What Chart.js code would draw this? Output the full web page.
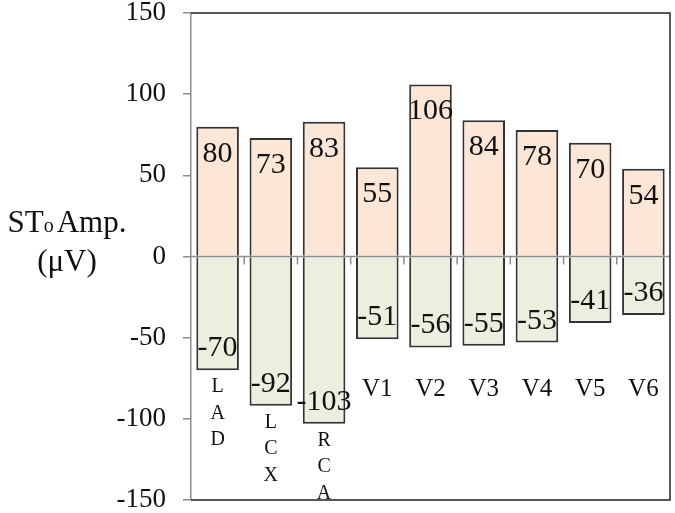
<!DOCTYPE html>
<html>
<head>
<meta charset="utf-8">
<script src="https://cdn.jsdelivr.net/npm/chart.js@4/dist/chart.umd.min.js"></script>
<style>
  html, body { margin: 0; padding: 0; background: #fff; }
  #wrap { width: 675px; height: 513px; }
</style>
</head>
<body>
<div id="wrap"><canvas id="stChart" width="675" height="513"></canvas></div>
<script>
// ST amplitude per lead
const categories = ['LAD', 'LCX', 'RCA', 'V1', 'V2', 'V3', 'V4', 'V5', 'V6'];
const positiveValues = [80, 73, 83, 55, 106, 84, 78, 70, 54];
const negativeValues = [-70, -92, -103, -51, -56, -55, -53, -41, -36];
const yTickValues = [-150, -100, -50, 0, 50, 100, 150];

const SERIF = '"Liberation Serif", "Times New Roman", serif';
const GRAY = '#8c8c8c';
const INK = '#111';

// labels, frame, zero line and axis title
const overlayPlugin = {
    id: 'overlay',
    afterDatasetsDraw(chart) {
        const ctx = chart.ctx;
        const a = chart.chartArea;
        const x = chart.scales.x;
        const y = chart.scales.y;
        ctx.save();

        // zero line + small ticks between categories
        const y0 = y.getPixelForValue(0);
        ctx.strokeStyle = GRAY;
        ctx.lineWidth = 1.5;
        ctx.beginPath();
        ctx.moveTo(a.left, y0);
        ctx.lineTo(a.right, y0);
        for (let i = 1; i < categories.length; i++) {
            const bx = (x.getPixelForValue(i - 1) + x.getPixelForValue(i)) / 2;
            ctx.moveTo(bx, y0);
            ctx.lineTo(bx, y0 + 8);
        }
        ctx.stroke();

        // frame: top, right, bottom
        ctx.strokeStyle = '#222';
        ctx.lineWidth = 1.5;
        ctx.beginPath();
        ctx.moveTo(a.left, a.top);
        ctx.lineTo(a.right, a.top);
        ctx.lineTo(a.right, a.bottom);
        ctx.lineTo(a.left, a.bottom);
        ctx.stroke();

        // value labels
        ctx.fillStyle = INK;
        ctx.textAlign = 'center';
        ctx.textBaseline = 'alphabetic';
        ctx.font = '30px ' + SERIF;
        categories.forEach((c, i) => {
            const cx = x.getPixelForValue(i);
            ctx.fillText(String(positiveValues[i]), cx, y.getPixelForValue(positiveValues[i]) + 35);
            ctx.fillText(String(negativeValues[i]), cx, y.getPixelForValue(negativeValues[i]) - 14);
        });

        // category labels
        categories.forEach((c, i) => {
            const cx = x.getPixelForValue(i);
            if (c.startsWith('V')) {
                ctx.font = '25px ' + SERIF;
                ctx.fillText(c, cx, y.getPixelForValue(-86));
            } else {
                ctx.font = '20px ' + SERIF;
                const base = y.getPixelForValue(negativeValues[i]) + 22;
                c.split('').forEach((ch, k) => ctx.fillText(ch, cx, base + k * 26.5));
            }
        });

        // y axis title: "STo Amp." / "(μV)"
        const big = '31px ' + SERIF;
        const small = '20px ' + SERIF;
        const gap = 3;
        ctx.font = big;
        const wST = ctx.measureText('ST').width;
        const wAmp = ctx.measureText('Amp.').width;
        ctx.font = small;
        const wO = ctx.measureText('o').width;
        const total = wST + wO + gap + wAmp;
        let tx = 67 - total / 2;
        ctx.textAlign = 'left';
        ctx.font = big;
        ctx.fillText('ST', tx, 232);
        tx += wST;
        ctx.font = small;
        ctx.fillText('o', tx, 232);
        tx += wO + gap;
        ctx.font = big;
        ctx.fillText('Amp.', tx, 232);
        ctx.textAlign = 'center';
        ctx.fillText('(\u03BCV)', 67, 271);

        ctx.restore();
    }
};

const ctx = document.getElementById('stChart').getContext('2d');
new Chart(ctx, {
    type: 'bar',
    data: {
        labels: categories,
        datasets: [
            {
                label: 'positive',
                data: positiveValues,
                backgroundColor: '#fce6d6',
                borderColor: '#333',
                borderWidth: 2,
                borderSkipped: 'start',
                barPercentage: 0.8,
                categoryPercentage: 1
            },
            {
                label: 'negative',
                data: negativeValues,
                backgroundColor: '#ebf0de',
                borderColor: '#333',
                borderWidth: 2,
                borderSkipped: 'start',
                barPercentage: 0.8,
                categoryPercentage: 1
            }
        ]
    },
    options: {
        responsive: false,
        animation: false,
        layout: { padding: { top: 0, right: 5, bottom: 2, left: 0 } },
        plugins: { legend: { display: false }, tooltip: { enabled: false } },
        scales: {
            x: { display: false, stacked: true, offset: true },
            y: {
                stacked: true,
                min: -150,
                max: 150,
                afterBuildTicks: s => { s.ticks = yTickValues.map(v => ({ value: v })); },
                afterFit: s => {
                    s.width = 191;
                    s.paddingTop = 13;
                    s.paddingBottom = 13;
                },
                ticks: {
                    color: INK,
                    padding: 17,
                    font: { family: SERIF, size: 27, lineHeight: 1 }
                },
                grid: { drawOnChartArea: false, drawTicks: true, tickLength: 8, color: GRAY, lineWidth: 1.5 },
                border: { display: true, color: GRAY, width: 1.5 }
            }
        }
    },
    plugins: [overlayPlugin]
});
</script>
</body>
</html>
